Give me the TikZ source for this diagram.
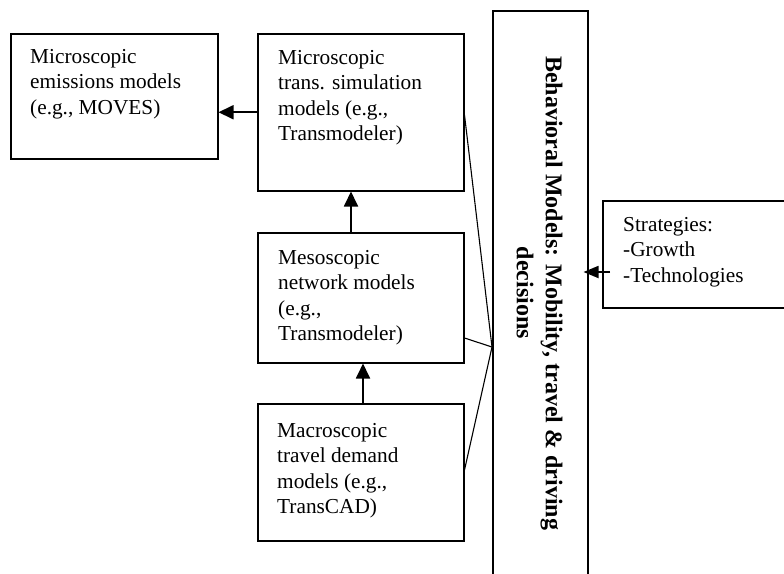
\documentclass[tikz,border=0pt]{standalone}
\usepackage{fontspec}
\setmainfont{Liberation Serif}
\usetikzlibrary{arrows.meta,calc}
\begin{document}
\begin{tikzpicture}[x=1pt,y=-1pt,
  box/.style={draw,line width=1.5pt,rectangle,inner sep=0pt,anchor=north west},
  label/.style={anchor=north west,inner sep=0pt,align=left,
    font=\fontsize{21.3pt}{25.5pt}\selectfont},
  arr/.style={line width=1.8pt,-{Triangle[length=15pt,width=14pt]}},
  link/.style={line width=1.1pt}]
\useasboundingbox (0,0) rectangle (784,573);
\begin{scope}
\clip (0,0) rectangle (784,573);
% model boxes
\node[box,minimum width=207pt,minimum height=125pt] (emis) at (10,33) {};
\node[box,minimum width=206pt,minimum height=157pt] (micro) at (257,33) {};
\node[box,minimum width=206pt,minimum height=130pt] (meso) at (257,232) {};
\node[box,minimum width=206pt,minimum height=137pt] (macro) at (257,403) {};
\node[box,minimum width=95pt,minimum height=620pt] (behav) at (492,10) {};
\node[box,minimum width=220pt,minimum height=107pt] (strat) at (602,200) {};
\end{scope}
% box texts
\node[label] (emisT) at (30,49) {Microscopic\\emissions models\\(e.g., MOVES)};
\node[label] (microT) at (278,50) {Microscopic\\trans. simulation\\models (e.g.,\\Transmodeler)};
\node[label] (mesoT) at (278,250) {Mesoscopic\\network models\\(e.g.,\\Transmodeler)};
\node[label] (macroT) at (277,423) {Macroscopic\\travel demand\\models (e.g.,\\TransCAD)};
\node[label] (stratT) at (623,217) {Strategies:\\-Growth\\-Technologies};
\node[rotate=-90,align=center,inner sep=0pt,
  font=\fontsize{24pt}{29pt}\selectfont\bfseries] (behavT) at (539.5,293)
  {Behavioral Models: Mobility, travel \& driving\\decisions};
% arrows between boxes
\draw[arr] (micro.west) -- (micro.west -| emis.east);
\draw[arr] ([xshift=94pt]meso.north west) -- ([xshift=94pt]micro.south west);
\draw[arr] ([xshift=106pt]macro.north west) -- ([xshift=106pt]meso.south west);
\draw[line width=1.8pt,-{Triangle[length=15pt,width=12pt]}]
  ([xshift=8pt,yshift=-72pt]strat.north west)
  -- ([xshift=-5pt,yshift=-72pt]strat.north west -| behav.east);
% links into the behavioral column
\coordinate (conv) at (492,347);
\draw[link] ([yshift=-82pt]micro.north east) -- (conv);
\draw[link] ([yshift=-106pt]meso.north east) -- (conv);
\draw[link] ([yshift=-67pt]macro.north east) -- (conv);
\end{tikzpicture}
\end{document}
